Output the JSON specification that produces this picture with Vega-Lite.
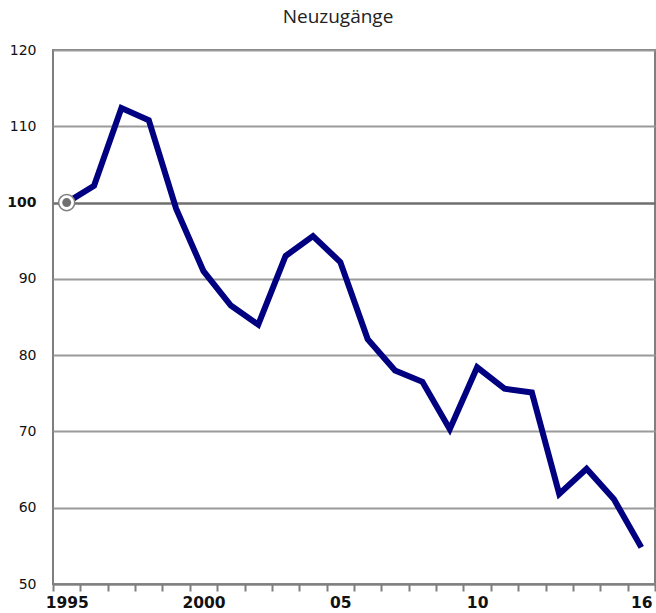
{
  "$schema": "https://vega.github.io/schema/vega-lite/v6.json",
  "width": 602,
  "height": 534,
  "autosize": {"type": "none"},
  "padding": {"left": 53, "top": 50, "right": 1, "bottom": 29},
  "title": {"text": "Neuzugänge", "fontSize": 19, "fontWeight": "normal", "font": "Open Sans", "color": "#222", "dx": -16, "offset": 16},
  "config": {
    "view": {"stroke": "#7f7f7f", "strokeWidth": 2},
    "font": "DejaVu Sans"
  },
  "data": {
    "values": [
      {"year": 1995, "value": 100},
      {"year": 1996, "value": 102.2},
      {"year": 1997, "value": 112.4},
      {"year": 1998, "value": 110.8},
      {"year": 1999, "value": 99.2},
      {"year": 2000, "value": 91.0},
      {"year": 2001, "value": 86.5},
      {"year": 2002, "value": 84.0},
      {"year": 2003, "value": 93.0},
      {"year": 2004, "value": 95.6},
      {"year": 2005, "value": 92.2},
      {"year": 2006, "value": 82.1},
      {"year": 2007, "value": 78.0},
      {"year": 2008, "value": 76.5},
      {"year": 2009, "value": 70.3},
      {"year": 2010, "value": 78.4},
      {"year": 2011, "value": 75.6},
      {"year": 2012, "value": 75.1},
      {"year": 2013, "value": 61.8},
      {"year": 2014, "value": 65.1},
      {"year": 2015, "value": 61.1},
      {"year": 2016, "value": 54.8}
    ]
  },
  "encoding": {
    "x": {
      "field": "year", "type": "quantitative",
      "scale": {"domain": [1994.5, 2016.5], "nice": false, "zero": false},
      "axis": {
        "title": null,
        "values": [1994.5,1995.5,1996.5,1997.5,1998.5,1999.5,2000.5,2001.5,2002.5,2003.5,2004.5,2005.5,2006.5,2007.5,2008.5,2009.5,2010.5,2011.5,2012.5,2013.5,2014.5,2015.5,2016.5],
        "labelExpr": "datum.value == 1994.5 ? '1995' : datum.value == 1999.5 ? '2000' : datum.value == 2004.5 ? '05' : datum.value == 2009.5 ? '10' : datum.value == 2015.5 ? '16' : ''",
        "labelOffset": 13.7,
        "labelFontWeight": "bold",
        "labelFontSize": 15.5,
        "labelColor": "#111",
        "labelFlush": false,
        "labelOverlap": false,
        "labelPadding": 4,
        "tickColor": "#7f7f7f",
        "tickSize": 7,
        "tickWidth": 2,
        "domainColor": "#7f7f7f",
        "domainWidth": 2,
        "grid": false
      }
    },
    "y": {
      "field": "value", "type": "quantitative",
      "scale": {"domain": [50, 120], "nice": false, "zero": false},
      "axis": {
        "title": null,
        "values": [50, 60, 70, 80, 90, 100, 110, 120],
        "ticks": false,
        "domain": false,
        "labelFontSize": 14,
        "labelColor": "#111",
        "labelPadding": 17,
        "labelFontWeight": {"condition": {"test": "datum.value == 100", "value": "bold"}, "value": "normal"},
        "grid": true,
        "gridColor": {"condition": {"test": "datum.value == 100", "value": "#6f6f6f"}, "value": "#9a9a9a"},
        "gridWidth": {"condition": {"test": "datum.value == 100", "value": 2.5}, "value": 2},
        "gridOpacity": 1
      }
    }
  },
  "layer": [
    {
      "mark": {"type": "line", "color": "#000080", "strokeWidth": 6, "strokeJoin": "miter", "strokeCap": "butt"}
    },
    {
      "transform": [{"filter": "datum.year == 1995"}],
      "mark": {"type": "point", "shape": "circle", "filled": true, "fill": "white", "stroke": "#808080", "strokeWidth": 1.5, "size": 260, "opacity": 1}
    },
    {
      "transform": [{"filter": "datum.year == 1995"}],
      "mark": {"type": "point", "shape": "circle", "filled": true, "fill": "#707070", "stroke": null, "size": 80, "opacity": 1}
    }
  ]
}
